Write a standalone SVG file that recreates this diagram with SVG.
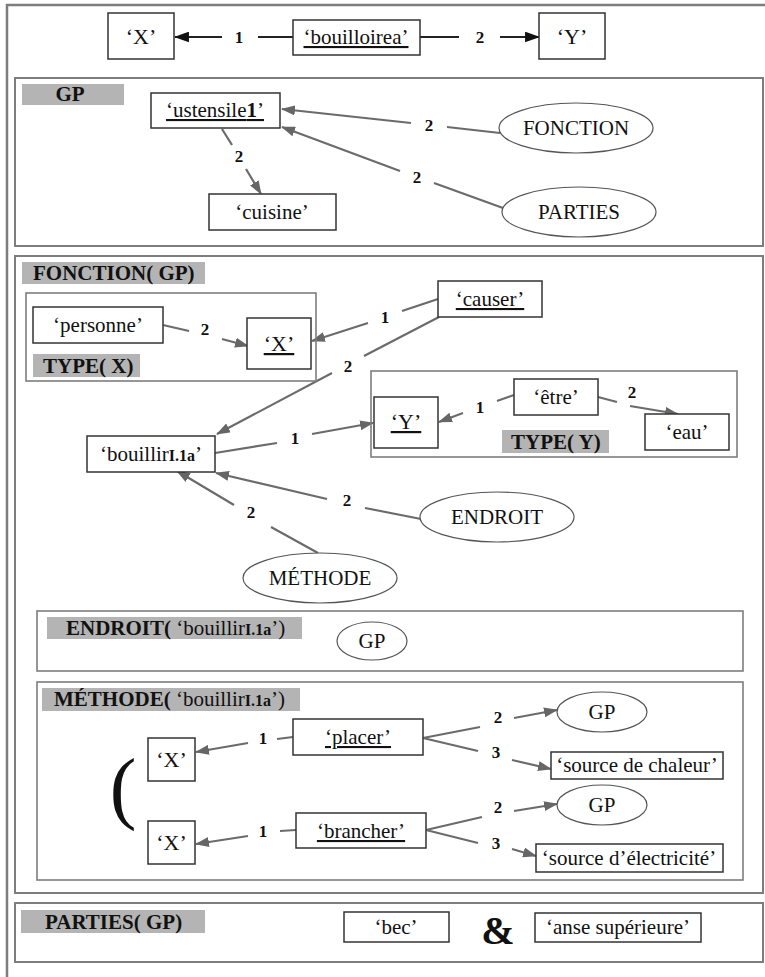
<svg xmlns="http://www.w3.org/2000/svg" width="765" height="977" viewBox="0 0 765 977">
  <style>
    .frame { fill: none; stroke: #7d7d7d; stroke-width: 2.5; }
    .sec { fill: none; stroke: #7d7d7d; stroke-width: 2; }
    .box { fill: #fff; stroke: #333; stroke-width: 1.5; }
    .ell { fill: #fff; stroke: #555; stroke-width: 1.2; }
    .tag { fill: #b4b4b4; }
    .t { font-family: "Liberation Serif", serif; font-size: 21px; fill: #111; text-anchor: middle; }
    .big { font-size: 22px; }
    .u { text-decoration: underline; }
    .h { font-family: "Liberation Serif", serif; font-size: 21px; font-weight: bold; fill: #111; }
    .hn { font-weight: normal; font-size: 21px; }
    .sub { font-weight: bold; font-size: 16px; }
    .n { font-family: "Liberation Serif", serif; font-size: 17px; font-weight: bold; fill: #111; text-anchor: middle; }
    .e { stroke: #6b6b6b; stroke-width: 2.2; fill: none; }
    .ek { stroke: #222; stroke-width: 2; fill: none; }
    .arr { marker-end: url(#ah); }
    .arrk { marker-end: url(#ahk); }
  </style>
  <defs>
    <marker id="ah" viewBox="0 0 14 10" refX="13" refY="5" markerWidth="14" markerHeight="10" markerUnits="userSpaceOnUse" orient="auto">
      <path d="M0,0 L14,5 L0,10 z" fill="#666"/>
    </marker>
    <marker id="ahk" viewBox="0 0 14 10" refX="13" refY="5" markerWidth="15" markerHeight="11" markerUnits="userSpaceOnUse" orient="auto">
      <path d="M0,0 L14,5 L0,10 z" fill="#111"/>
    </marker>
  </defs>

  <rect width="765" height="977" fill="#fff"/>

  <!-- outer frame and section frames -->
  <g id="frames">
    <path class="frame" d="M7,977 V5 H770"/>
    <rect class="sec" x="15" y="78" width="748" height="168"/>
    <rect class="sec" x="15" y="256" width="748" height="637"/>
    <rect class="sec" x="15" y="903" width="748" height="59"/>
  </g>

  <!-- section tags -->
  <g id="tags">
    <rect class="tag" x="22" y="84" width="102" height="21"/>
    <text class="h" x="70" y="101" text-anchor="middle">GP</text>
    <rect class="tag" x="22" y="262" width="183" height="22"/>
    <text class="h" x="33" y="280">FONCTION( GP)</text>
    <rect class="tag" x="21" y="910" width="184" height="23"/>
    <text class="h" x="45" y="929">PARTIES( GP)</text>
  </g>

  <!-- connectors -->
  <g id="connectors">
    <!-- top line -->
    <line class="ek" x1="293" y1="37" x2="258" y2="37"/>
    <line class="ek arrk" x1="222" y1="37" x2="175" y2="37"/>
    <line class="ek" x1="420" y1="37" x2="459" y2="37"/>
    <line class="ek arrk" x1="500" y1="37" x2="539" y2="37"/>
    <text class="n" x="239" y="43">1</text>
    <text class="n" x="480" y="43">2</text>

    <!-- GP -->
    <line class="e" x1="500" y1="133" x2="447" y2="127"/>
    <line class="e arr" x1="411" y1="123" x2="282" y2="109"/>
    <text class="n" x="429" y="131">2</text>
    <line class="e" x1="503" y1="208" x2="434" y2="183"/>
    <line class="e arr" x1="400" y1="171" x2="282" y2="127"/>
    <text class="n" x="417" y="183">2</text>
    <line class="e" x1="222" y1="129" x2="232" y2="145"/>
    <line class="e arr" x1="246" y1="169" x2="261" y2="194"/>
    <text class="n" x="239" y="162">2</text>

    <!-- FONCTION -->
    <line class="e" x1="163" y1="325" x2="189" y2="331"/>
    <line class="e arr" x1="222" y1="339" x2="248" y2="346"/>
    <text class="n" x="205" y="335">2</text>
    <line class="e" x1="438" y1="299" x2="402" y2="311"/>
    <line class="e arr" x1="368" y1="323" x2="312" y2="341"/>
    <text class="n" x="385" y="323">1</text>
    <line class="e" x1="439" y1="317" x2="364" y2="356"/>
    <line class="e arr" x1="332" y1="373" x2="217" y2="434"/>
    <text class="n" x="348" y="372">2</text>
    <line class="e" x1="514" y1="395" x2="497" y2="401"/>
    <line class="e arr" x1="463" y1="413" x2="439" y2="422"/>
    <text class="n" x="480" y="413">1</text>
    <line class="e" x1="598" y1="397" x2="617" y2="402"/>
    <line class="e arr" x1="630" y1="406" x2="678" y2="414"/>
    <text class="n" x="632" y="398">2</text>
    <line class="e" x1="215" y1="453" x2="277" y2="443"/>
    <line class="e arr" x1="312" y1="434" x2="373" y2="423"/>
    <text class="n" x="295" y="444">1</text>
    <line class="e" x1="421" y1="519" x2="365" y2="508"/>
    <line class="e arr" x1="327" y1="499" x2="216" y2="473"/>
    <text class="n" x="347" y="506">2</text>
    <line class="e" x1="318" y1="553" x2="271" y2="527"/>
    <line class="e arr" x1="234" y1="505" x2="177" y2="471"/>
    <text class="n" x="251" y="518">2</text>

    <!-- METHODE -->
    <line class="e" x1="293" y1="737" x2="277" y2="739"/>
    <line class="e arr" x1="248" y1="743" x2="196" y2="752"/>
    <text class="n" x="263" y="744">1</text>
    <line class="e" x1="423" y1="738" x2="480" y2="727"/>
    <line class="e" x1="423" y1="738" x2="478" y2="751"/>
    <line class="e arr" x1="514" y1="718" x2="557" y2="710"/>
    <line class="e arr" x1="512" y1="760" x2="551" y2="769"/>
    <text class="n" x="498" y="723">2</text>
    <text class="n" x="496" y="758">3</text>
    <line class="e" x1="296" y1="830" x2="280" y2="831"/>
    <line class="e arr" x1="248" y1="836" x2="196" y2="844"/>
    <text class="n" x="263" y="837">1</text>
    <line class="e" x1="426" y1="830" x2="482" y2="817"/>
    <line class="e" x1="426" y1="830" x2="478" y2="843"/>
    <line class="e arr" x1="514" y1="811" x2="557" y2="804"/>
    <line class="e arr" x1="512" y1="849" x2="536" y2="856"/>
    <text class="n" x="498" y="813">2</text>
    <text class="n" x="496" y="849">3</text>
  </g>

  <!-- top statement -->
  <g id="top-x">
    <rect class="box" x="108" y="13" width="66" height="46"/>
    <text class="t big" x="141" y="44">‘X’</text>
  </g>
  <g id="top-bouilloire">
    <rect class="box" x="293" y="20" width="127" height="35"/>
    <text class="t u" x="356" y="44">‘bouilloirea’</text>
  </g>
  <g id="top-y">
    <rect class="box" x="539" y="13" width="66" height="46"/>
    <text class="t big" x="572" y="44">‘Y’</text>
  </g>

  <!-- GP -->
  <g id="gp-ustensile">
    <rect class="box" x="151" y="93" width="129" height="35"/>
    <text class="t u" x="215" y="117">‘ustensile<tspan font-weight="bold">1</tspan>’</text>
  </g>
  <g id="gp-cuisine">
    <rect class="box" x="209" y="194" width="127" height="36"/>
    <text class="t" x="272" y="219">‘cuisine’</text>
  </g>
  <g id="gp-fonction">
    <ellipse class="ell" cx="576" cy="128" rx="77" ry="25"/>
    <text class="t" x="576" y="135">FONCTION</text>
  </g>
  <g id="gp-parties">
    <ellipse class="ell" cx="579" cy="212" rx="77" ry="25"/>
    <text class="t" x="579" y="219">PARTIES</text>
  </g>

  <!-- FONCTION(GP) -->
  <g id="type-x">
    <rect class="sec" x="26" y="293" width="290" height="88" style="stroke-width:1.6"/>
    <rect class="tag" x="33" y="354" width="107" height="23"/>
    <text class="h" x="43" y="373">TYPE( X)</text>
  </g>
  <g id="personne">
    <rect class="box" x="33" y="307" width="130" height="36"/>
    <text class="t" x="98" y="332">‘personne’</text>
  </g>
  <g id="f-x">
    <rect class="box" x="247" y="318" width="64" height="51"/>
    <text class="t big u" x="279" y="351">‘X’</text>
  </g>
  <g id="causer">
    <rect class="box" x="438" y="281" width="104" height="36"/>
    <text class="t u" x="490" y="306">‘causer’</text>
  </g>
  <g id="type-y">
    <rect class="sec" x="371" y="371" width="366" height="86" style="stroke-width:1.6"/>
    <rect class="tag" x="502" y="430" width="107" height="23"/>
    <text class="h" x="511" y="449">TYPE( Y)</text>
  </g>
  <g id="f-y">
    <rect class="box" x="374" y="397" width="64" height="51"/>
    <text class="t big u" x="406" y="429">‘Y’</text>
  </g>
  <g id="etre">
    <rect class="box" x="514" y="379" width="84" height="36"/>
    <text class="t" x="556" y="404">‘être’</text>
  </g>
  <g id="eau">
    <rect class="box" x="645" y="414" width="84" height="36"/>
    <text class="t" x="687" y="439">‘eau’</text>
  </g>
  <g id="bouillir">
    <rect class="box" x="87" y="436" width="128" height="36"/>
    <text class="t" x="151" y="461">‘bouillir<tspan class="sub">I.1a</tspan>’</text>
  </g>
  <g id="endroit">
    <ellipse class="ell" cx="497" cy="517" rx="77" ry="25"/>
    <text class="t" x="497" y="524">ENDROIT</text>
  </g>
  <g id="methode">
    <ellipse class="ell" cx="320" cy="578" rx="77" ry="25"/>
    <text class="t" x="320" y="585">MÉTHODE</text>
  </g>

  <!-- ENDROIT('bouillirI.1a') -->
  <g id="endroit-frame">
    <rect class="sec" x="37" y="611" width="706" height="60" style="stroke-width:1.6"/>
    <rect class="tag" x="47" y="617" width="255" height="22"/>
    <text class="h" x="66" y="635">ENDROIT(<tspan class="hn"> ‘bouillir<tspan class="sub">I.1a</tspan>’)</tspan></text>
  </g>
  <g id="endroit-gp">
    <ellipse class="ell" cx="372" cy="641" rx="35" ry="19"/>
    <text class="t" x="372" y="648">GP</text>
  </g>

  <!-- METHODE('bouillirI.1a') -->
  <g id="methode-frame">
    <rect class="sec" x="37" y="682" width="706" height="198" style="stroke-width:1.6"/>
    <rect class="tag" x="42" y="688" width="258" height="23"/>
    <text class="h" x="54" y="706">MÉTHODE(<tspan class="hn"> ‘bouillir<tspan class="sub">I.1a</tspan>’)</tspan></text>
    <text x="123" y="814" font-family="Liberation Serif, serif" font-size="80" text-anchor="middle" fill="#111">(</text>
  </g>
  <g id="m-x1">
    <rect class="box" x="148" y="738" width="47" height="43"/>
    <text class="t big" x="171.5" y="767">‘X’</text>
  </g>
  <g id="placer">
    <rect class="box" x="293" y="719" width="130" height="36"/>
    <text class="t u" x="358" y="744">‘placer’</text>
  </g>
  <g id="m-gp1">
    <ellipse class="ell" cx="602" cy="712" rx="45" ry="20"/>
    <text class="t" x="602" y="719">GP</text>
  </g>
  <g id="chaleur">
    <rect class="box" x="551" y="752" width="172" height="27"/>
    <text class="t" x="637" y="772">‘source de chaleur’</text>
  </g>
  <g id="m-x2">
    <rect class="box" x="148" y="821" width="47" height="43"/>
    <text class="t big" x="171.5" y="850">‘X’</text>
  </g>
  <g id="brancher">
    <rect class="box" x="296" y="813" width="130" height="35"/>
    <text class="t u" x="361" y="838">‘brancher’</text>
  </g>
  <g id="m-gp2">
    <ellipse class="ell" cx="602" cy="805" rx="45" ry="20"/>
    <text class="t" x="602" y="812">GP</text>
  </g>
  <g id="electricite">
    <rect class="box" x="536" y="844" width="187" height="28"/>
    <text class="t" x="629" y="865">‘source d’électricité’</text>
  </g>

  <!-- PARTIES(GP) -->
  <g id="bec">
    <rect class="box" x="344" y="912" width="105" height="30"/>
    <text class="t" x="396" y="934">‘bec’</text>
  </g>
  <text x="498" y="944" font-family="Liberation Serif, serif" font-size="40" font-weight="bold" text-anchor="middle" fill="#111">&amp;</text>
  <g id="anse">
    <rect class="box" x="535" y="913" width="166" height="29"/>
    <text class="t" x="618" y="934">‘anse supérieure’</text>
  </g>
</svg>
